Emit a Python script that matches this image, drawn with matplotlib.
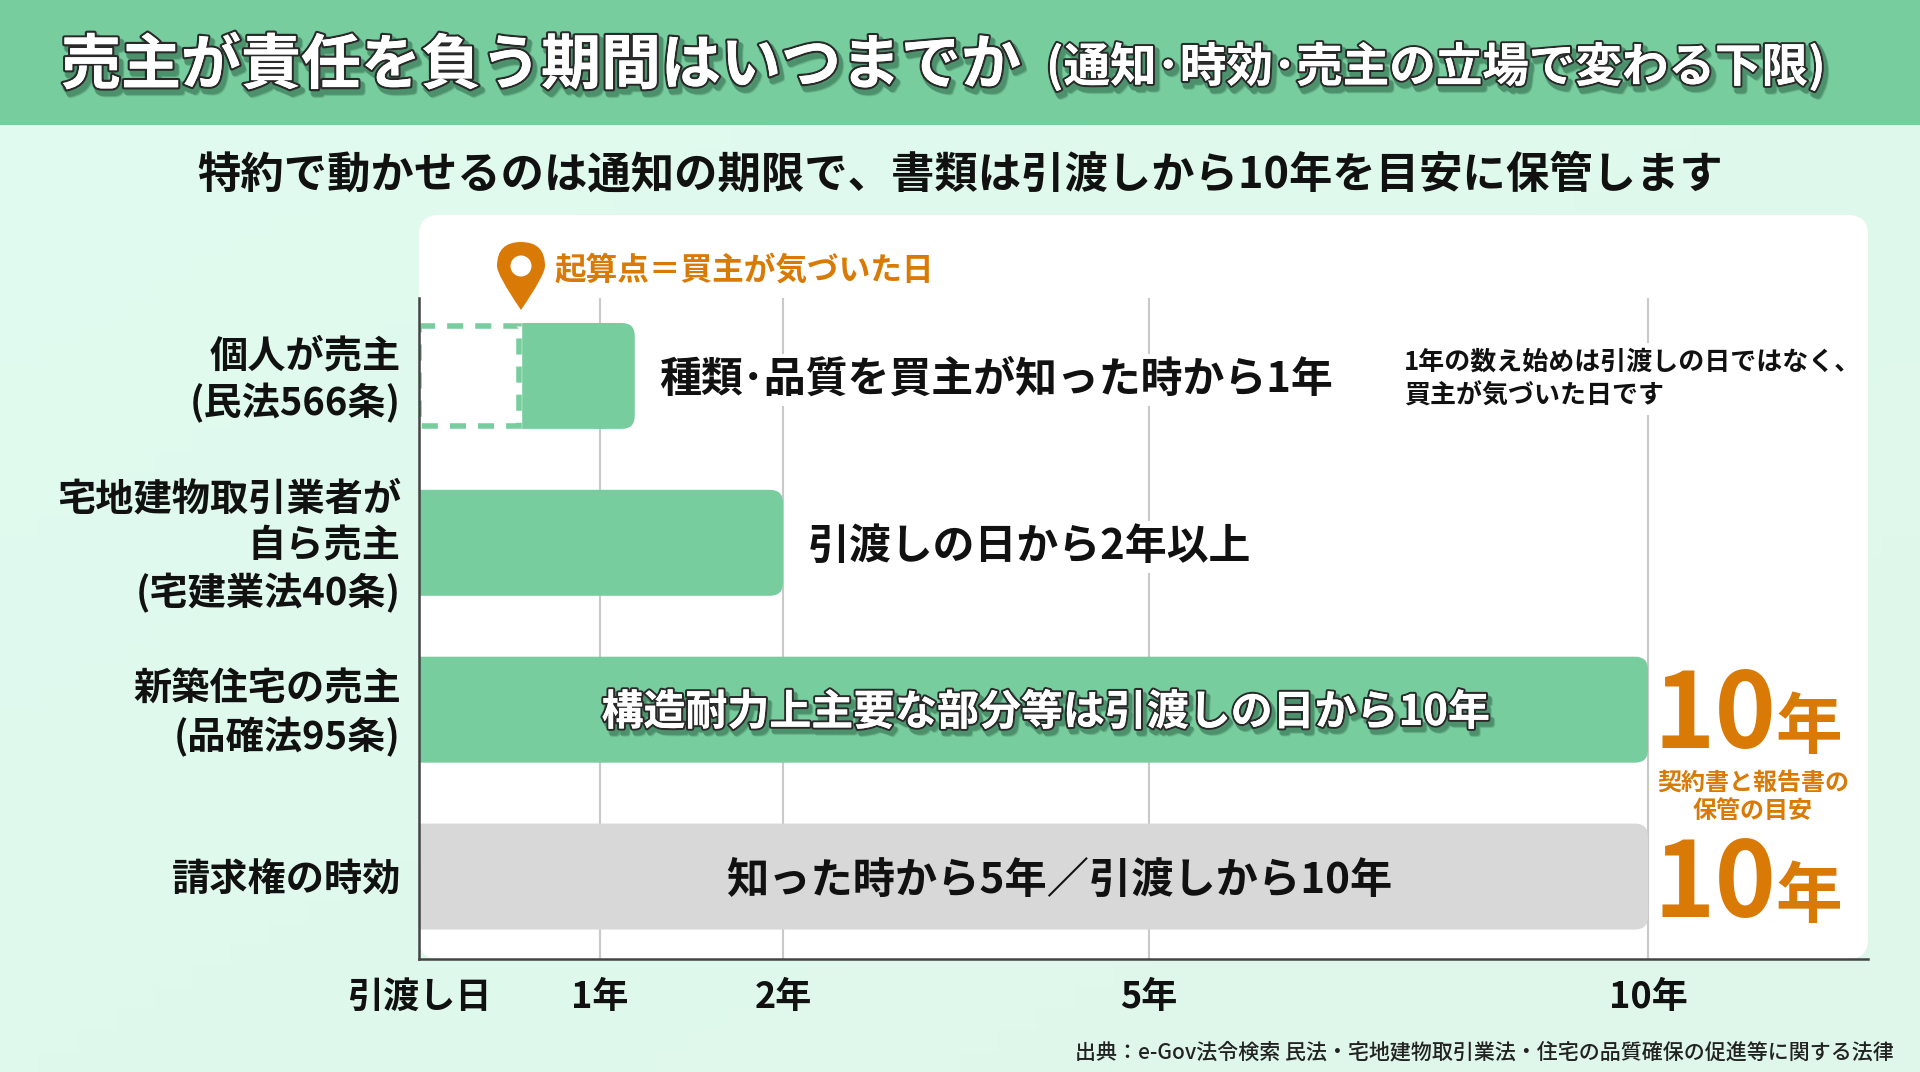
#!/usr/bin/env python3
import numpy as np
import matplotlib
matplotlib.use('Agg')
import matplotlib.pyplot as plt
import matplotlib.patheffects as pe
from matplotlib.path import Path
from matplotlib.patches import PathPatch, Rectangle, FancyBboxPatch, Circle
from matplotlib.transforms import IdentityTransform, ScaledTranslation

plt.rcParams['font.family'] = ['Noto Sans CJK JP', 'DejaVu Sans']

W, H = 1920, 1072
GREEN = '#78CD9E'
ORANGE = '#D97A06'
GREY = '#D8D8D8'

row_labels = ['個人が売主\n(民法566条)', '宅地建物取引業者が\n自ら売主\n(宅建業法40条)',
              '新築住宅の売主\n(品確法95条)', '請求権の時効']
bar_starts = [0.57, 0, 0, 0]
bar_ends = [1.19, 2, 10, 10]
bar_colors = [GREEN, GREEN, GREEN, GREY]
waiting_start = 0
waiting_end = 0.555
tick_years = [0, 1, 2, 5, 10]
tick_labels = ['引渡し日', '1年', '2年', '5年', '10年']
# the time axis is not linear in the original, so it gets a piecewise scale
scale_years = [0, 1, 2, 5, 10, 12.2]
scale_pos = [0, 181, 364, 730, 1229, 1449]


def forward(v):
    return np.interp(v, scale_years, scale_pos)


def inverse(v):
    return np.interp(v, scale_pos, scale_years)


def right_round_bar(ax, x0, x1, y0, y1, color, r=13):
    # corners only on the right side, drawn in pixels from data coordinates
    (a, b), (c, d) = ax.transData.transform([(x0, y0), (x1, y1)])
    ylo, yhi = min(b, d), max(b, d)
    verts = [(a, ylo), (c - r, ylo), (c, ylo), (c, ylo + r), (c, yhi - r), (c, yhi), (c - r, yhi), (a, yhi), (a, ylo)]
    codes = [Path.MOVETO, Path.LINETO, Path.CURVE3, Path.CURVE3, Path.LINETO, Path.CURVE3, Path.CURVE3, Path.LINETO, Path.CLOSEPOLY]
    ax.add_patch(PathPatch(Path(verts, codes), fc=color, ec='none', transform=IdentityTransform(), zorder=3))


def outlined(stroke, shadow):
    # soft shadow faked with a few offset strokes, then a thin dark outline
    fx = []
    for dx, dy, a in [(3, -4, 0.12), (2.5, -3.5, 0.18), (2, -3, 0.25)]:
        fx.append(pe.SimpleLineShadow(offset=(dx, dy), shadow_color='#1d4d33', alpha=a, linewidth=shadow))
    fx.append(pe.withStroke(linewidth=stroke, foreground='#2a2a2a'))
    fx.append(pe.Normal())
    return fx


fig = plt.figure(figsize=(W / 100, H / 100), dpi=100)

# page background, header and white panel live in a pixel axes
bg = fig.add_axes([0, 0, 1, 1], zorder=0)
bg.axis('off')
grad = np.zeros((50, 50, 3))
xx, yy = np.meshgrid(np.linspace(0, 1, 50), np.linspace(0, 1, 50))
c0 = np.array([0xE1, 0xFB, 0xF0]) / 255
c1 = np.array([0xDF, 0xF7, 0xEA]) / 255
grad[:] = c0 + ((xx + yy) / 2)[..., None] * (c1 - c0)
bg.imshow(grad, extent=[0, W, H, 0], aspect='auto', zorder=0)
bg.set_xlim(0, W)
bg.set_ylim(H, 0)
bg.add_patch(Rectangle((0, 0), W, 125, fc=GREEN, ec='none', zorder=1))
bg.add_patch(FancyBboxPatch((419 + 20, 215 + 20), 1449 - 40, 744 - 40, boxstyle='round,pad=20,rounding_size=20',
                            fc='white', ec='none', zorder=1))

bg.text(61, 66, '売主が責任を負う期間はいつまでか', fontsize=43.2, fontweight='bold', color='white',
        va='center', ha='left', path_effects=outlined(3.2, 5), zorder=5)
# narrow middle dot (U+FF65) because the original sets these dots tight
bg.text(1046, 67, '(通知\uff65時効\uff65売主の立場で変わる下限)', fontsize=33.5, fontweight='bold', color='white',
        va='center', ha='left', path_effects=outlined(3, 5), zorder=5)
bg.text(960, 175, '特約で動かせるのは通知の期限で、書類は引渡しから10年を目安に保管します', fontsize=31.2,
        fontweight='bold', color='#111111', va='center', ha='center', zorder=5)
bg.text(1894, 1052, '出典\uff1ae-Gov法令検索 民法・宅地建物取引業法・住宅の品質確保の促進等に関する法律', fontsize=15.1,
        fontweight='medium', color='#222222', va='center', ha='right', zorder=5)

# chart axes
ax = fig.add_axes([419 / W, 1 - 959 / H, 1449 / W, 661 / H], zorder=2)
ax.patch.set_alpha(0)
ax.set_xscale('function', functions=(forward, inverse))
ax.set_xlim(0, 12.2)
ax.set_ylim(3.494, -0.467)
ax.set_xticks(tick_years, tick_labels, fontsize=26, fontweight='bold', color='#111111')
ax.set_yticks(range(4), row_labels, fontsize=27.5, fontweight='bold', color='#111111', linespacing=1.25)
ax.tick_params(axis='x', length=0, pad=14.5)
ax.tick_params(axis='y', length=0, pad=13)
ax.xaxis.set_minor_locator(matplotlib.ticker.NullLocator())
ax.grid(axis='x', color='#C9C9C9', lw=1.5, zorder=1)
ax.set_axisbelow(True)
# multi-line labels sit a little high in the original
nudge = ScaledTranslation(0, 3 / 72, fig.dpi_scale_trans)
for lab in ax.get_yticklabels()[:3]:
    lab.set_transform(lab.get_transform() + nudge)
for s in ['top', 'right']:
    ax.spines[s].set_visible(False)
for s in ['left', 'bottom']:
    ax.spines[s].set_color('#444444')
    ax.spines[s].set_linewidth(1.8)
    ax.spines[s].set_zorder(4)

bar_h = 0.635
for i in range(4):
    right_round_bar(ax, bar_starts[i], bar_ends[i], i - bar_h / 2, i + bar_h / 2, bar_colors[i])
# dashed box for the time before the buyer noticed
ax.add_patch(Rectangle((waiting_start, -bar_h / 2 + 0.018), waiting_end - waiting_start, bar_h - 0.036, fc='white', ec=GREEN,
                       lw=4, ls=(0, (2.9, 2.16)), zorder=2.5))

box = dict(facecolor='white', edgecolor='none', pad=4)
top = fig.add_axes([0, 0, 1, 1], zorder=3)
top.set_xlim(0, W)
top.set_ylim(H, 0)
top.axis('off')
top.patch.set_alpha(0)
top.text(659, 380, '種類\uff65品質を買主が知った時から1年', fontsize=30.2, fontweight='bold', color='#111111', va='center', ha='left', bbox=box)
top.text(1404, 379, '1年の数え始めは引渡しの日ではなく、\n買主が気づいた日です', fontsize=18.7, fontweight='bold', color='#111111',
         va='center', ha='left', linespacing=1.3, bbox=box)
top.text(808, 547, '引渡しの日から2年以上', fontsize=30.2, fontweight='bold', color='#111111', va='center', ha='left', bbox=box)
top.text(1045, 713, '構造耐力上主要な部分等は引渡しの日から10年', fontsize=30.2, fontweight='bold', color='white', va='center', ha='center',
         path_effects=outlined(3, 4))
top.text(1059, 881, '知った時から5年\uff0f引渡しから10年', fontsize=30.4, fontweight='bold', color='#111111', va='center', ha='center')

# pin marker and orange callouts
pin = [(521, 310), (497, 275), (497, 266), (497, 242), (521, 242), (545, 242), (545, 266), (545, 275), (521, 310)]
pin_codes = [Path.MOVETO, Path.CURVE3, Path.CURVE3, Path.CURVE3, Path.CURVE3, Path.CURVE3, Path.CURVE3, Path.CURVE3, Path.CURVE3]
top.add_patch(PathPatch(Path(pin, pin_codes), fc=ORANGE, ec='none'))
top.add_patch(Circle((521, 266), 10.5, fc='white', ec='none'))
top.text(555, 271, '起算点\uff1d買主が気づいた日', fontsize=22.8, fontweight='bold', color=ORANGE, va='center', ha='left')

for base in [748, 917]:
    top.text(1653, base, '10', fontsize=75, fontweight='bold', color=ORANGE, va='baseline', ha='left')
    top.text(1776, base, '年', fontsize=48, fontweight='bold', color=ORANGE, va='baseline', ha='left')
top.text(1753, 797, '契約書と報告書の\n保管の目安', fontsize=17.3, fontweight='bold', color=ORANGE, va='center', ha='center', linespacing=1.2)

fig.savefig('out.png', dpi=100)
